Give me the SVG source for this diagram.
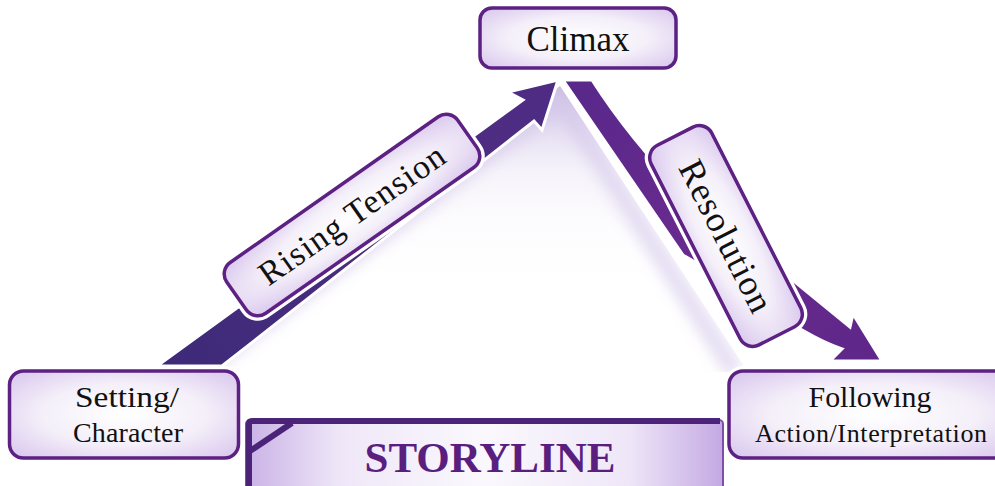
<svg xmlns="http://www.w3.org/2000/svg" width="995" height="486" viewBox="0 0 995 486">
<defs>
<style>
.halo{fill:none;stroke:#ffffff;stroke-width:10}
.box{stroke:#5c2183;stroke-width:3.5;fill:url(#boxFill)}
.lbl{font-family:"Liberation Serif","Times New Roman",serif;fill:#111111;text-anchor:middle}
</style>
<radialGradient id="boxFill" cx="50%" cy="50%" r="65%">
<stop offset="0" stop-color="#ffffff"/>
<stop offset="0.55" stop-color="#f4eff9"/>
<stop offset="1" stop-color="#dccbef"/>
</radialGradient>
<linearGradient id="riseFill" x1="157" y1="366" x2="558" y2="80" gradientUnits="userSpaceOnUse">
<stop offset="0" stop-color="#3d2a78"/>
<stop offset="0.5" stop-color="#4a2d80"/>
<stop offset="1" stop-color="#4f2c84"/>
</linearGradient>
<linearGradient id="resFill" x1="560" y1="80" x2="880" y2="360" gradientUnits="userSpaceOnUse">
<stop offset="0" stop-color="#57288a"/>
<stop offset="0.5" stop-color="#6a2a8e"/>
<stop offset="1" stop-color="#5e2789"/>
</linearGradient>
<linearGradient id="shade" x1="0" y1="85" x2="0" y2="380" gradientUnits="userSpaceOnUse">
<stop offset="0" stop-color="#b7a3d9" stop-opacity="0.75"/>
<stop offset="0.3" stop-color="#e6def2" stop-opacity="0.35"/>
<stop offset="0.7" stop-color="#ffffff" stop-opacity="0"/>
</linearGradient>
<linearGradient id="storyFill" x1="245" y1="0" x2="723" y2="0" gradientUnits="userSpaceOnUse">
<stop offset="0" stop-color="#c9b1e6"/>
<stop offset="0.2" stop-color="#efe7f8"/>
<stop offset="0.5" stop-color="#faf8fd"/>
<stop offset="0.8" stop-color="#efe7f8"/>
<stop offset="1" stop-color="#c4a9e3"/>
</linearGradient>
<clipPath id="triClip"><polygon points="560,86 165,372 748,372"/></clipPath>
<filter id="blur" x="-20%" y="-20%" width="140%" height="140%"><feGaussianBlur stdDeviation="7"/></filter>
</defs>
<rect width="995" height="486" fill="#ffffff"/>

<g id="shading">
<polygon points="560,86 165,372 748,372" fill="url(#shade)"/>
<g clip-path="url(#triClip)">
<polyline points="200,372 560,100 735,372" fill="none" stroke="#d3c6ea" stroke-width="18" filter="url(#blur)" opacity="0.6"/>
</g>
</g>

<g id="connectors">
<path id="rising-arrow" d="M157,366 L523,100 L508,92 L558,80 L542,130 L534,121 L222,366 Z" fill="url(#riseFill)" stroke="#ffffff" stroke-width="3" stroke-linejoin="miter"/>
<path id="resolution-arrow" d="M563,80 L592,80 C640,155 720,240 795,282 L850,327 L853,314 L882,361 L830,361 L842,349 C800,335 760,300 683,255 Z" fill="url(#resFill)" stroke="#ffffff" stroke-width="3"/>
</g>

<g id="rising-label" transform="translate(352,215) rotate(-35)">
<rect class="halo" x="-141" y="-31" width="282" height="62" rx="14"/>
<rect class="box" x="-141" y="-31" width="282" height="62" rx="14"/>
<text class="lbl" x="0" y="11" font-size="34" textLength="219">Rising Tension</text>
</g>

<g id="resolution-label" transform="translate(726,236) rotate(63)">
<rect class="halo" x="-112" y="-34" width="224" height="68" rx="14"/>
<rect class="box" x="-112" y="-34" width="224" height="68" rx="14"/>
<text class="lbl" x="0" y="12" font-size="36" textLength="166">Resolution</text>
</g>

<g id="climax">
<rect class="halo" x="480" y="8" width="196" height="60" rx="12"/>
<rect class="box" x="480" y="8" width="196" height="60" rx="12"/>
<text class="lbl" x="578" y="51" font-size="35">Climax</text>
</g>

<g id="setting">
<rect class="halo" x="9.5" y="371" width="229" height="87" rx="14"/>
<rect class="box" x="9.5" y="371" width="229" height="87" rx="14"/>
<text class="lbl" x="127" y="407" font-size="29" textLength="104" lengthAdjust="spacingAndGlyphs">Setting/</text>
<text class="lbl" x="128" y="442" font-size="28" textLength="110">Character</text>
</g>

<g id="following">
<rect class="halo" x="729" y="371" width="290" height="87" rx="14"/>
<rect class="box" x="729" y="371" width="290" height="87" rx="14"/>
<text class="lbl" x="870" y="407" font-size="29" textLength="123" lengthAdjust="spacingAndGlyphs">Following</text>
<text class="lbl" x="871" y="442" font-size="26" textLength="232">Action/Interpretation</text>
</g>

<g id="storyline">
<rect x="246" y="420" width="477" height="80" rx="4" fill="url(#storyFill)" stroke="#7d4fa8" stroke-width="2"/>
<path d="M249,500 L249,424 Q249,421 252,421 L720,421" fill="none" stroke="#4b2378" stroke-width="6"/>
<line x1="250" y1="451" x2="292" y2="423" stroke="#4b2378" stroke-width="6"/>
<text x="490" y="472" font-family="Liberation Serif, Times New Roman, serif" font-weight="bold" font-size="43" fill="#5a1f7e" text-anchor="middle">STORYLINE</text>
</g>
</svg>
